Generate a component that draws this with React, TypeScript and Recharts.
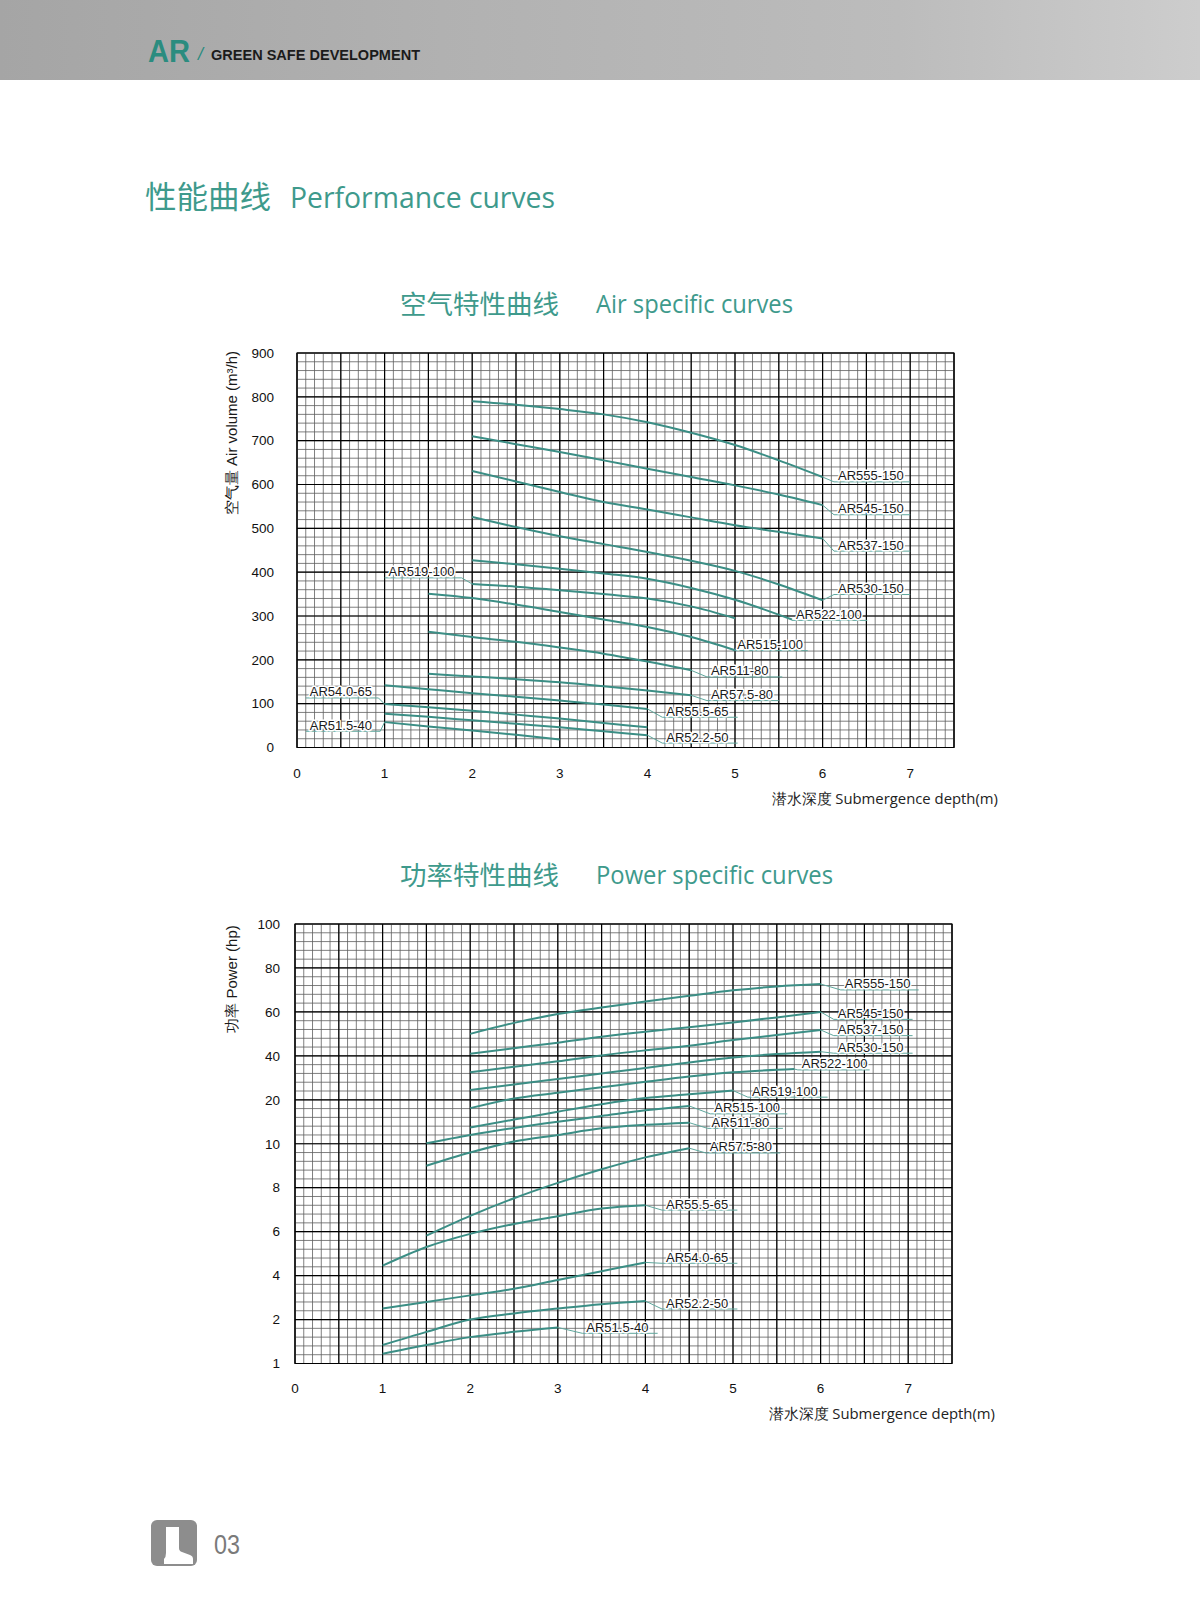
import React from 'react';
import { LineChart, Line, XAxis, YAxis, ReferenceLine, ReferenceArea } from 'recharts';

const FONT = '"Liberation Sans", Arial, Helvetica, sans-serif';
const TEAL = '#3b8e85';
const LEADER = '#5fa79d';
const TITLE = '#3e9a8c';

// ---------- shared ----------
const seriesNames = ['AR555-150', 'AR545-150', 'AR537-150', 'AR530-150', 'AR522-100', 'AR519-100', 'AR515-100', 'AR511-80', 'AR57.5-80', 'AR55.5-65', 'AR54.0-65', 'AR52.2-50', 'AR51.5-40'];
const depthTicks = [0, 1, 2, 3, 4, 5, 6, 7];

const d2to6 = [2, 2.5, 3, 3.5, 4, 4.5, 5, 5.5, 6];
const d2to5 = [2, 2.5, 3, 3.5, 4, 4.5, 5];
const d15to5 = [1.5, 2, 2.5, 3, 3.5, 4, 4.5, 5];
const d15to45 = [1.5, 2, 2.5, 3, 3.5, 4, 4.5];
const d1to4 = [1, 1.5, 2, 2.5, 3, 3.5, 4];
const d1to3 = [1, 1.5, 2, 2.5, 3];
const d2to565 = [2, 2.5, 3, 3.5, 4, 4.5, 5, 5.65];
const d2to57 = [2, 2.5, 3, 3.5, 4, 4.5, 5, 5.7];

// ---------- air specific curves (m3/h) ----------
const airTicks = [0, 100, 200, 300, 400, 500, 600, 700, 800, 900];
const air555 = [790, 782, 772, 760, 742, 718, 690, 655, 617];
const air545 = [710, 692, 674, 655, 636, 617, 598, 577, 553];
const air537 = [631, 607, 583, 560, 543, 525, 507, 492, 477];
const air530 = [526, 503, 482, 464, 446, 426, 403, 372, 336];
const air522 = [427, 418, 408, 397, 385, 364, 337, 292];
const air519 = [373, 367, 359, 350, 340, 322, 295];
const air515 = [351, 341, 326, 309, 292, 275, 252, 222];
const air511 = [264, 252, 241, 228, 214, 196, 176];
const air575 = [168, 162, 156, 149, 140, 130, 119];
const air555s = [142, 133, 124, 116, 107, 98, 88];
const air540 = [99, 92, 84, 75, 66, 56, 46];
const air522s = [77, 70, 62, 54, 46, 37, 28];
const air515s = [58, 48, 39, 29, 18];
const airDepths = [d2to6, d2to6, d2to6, d2to6, d2to565, d2to5, d15to5, d15to45, d15to45, d1to4, d1to4, d1to4, d1to3];
const airValues = [air555, air545, air537, air530, air522, air519, air515, air511, air575, air555s, air540, air522s, air515s];
// label underline: start depth, end depth, level; side = which curve end the leader meets
const airLabelFrom = [6.13, 6.13, 6.13, 6.13, 5.65, 1.0, 4.98, 4.68, 4.68, 4.17, 0.1, 4.17, 0.1];
const airLabelTo = [7.0, 7.0, 7.0, 7.0, 6.51, 1.88, 5.83, 5.54, 5.5, 5.03, 0.93, 5.03, 0.95];
const airLabelLevel = [606, 531, 448, 349, 290, 387, 221, 161, 107, 69, 113, 10, 37];
const airLabelSide = ['end', 'end', 'end', 'end', 'end', 'start', 'end', 'end', 'end', 'end', 'start', 'end', 'start'];

// ---------- power specific curves (hp) ----------
const powerTickValues = [1, 2, 4, 6, 8, 10, 20, 40, 60, 80, 100];
const powerTickLabels = ['1', '2', '4', '6', '8', '10', '20', '40', '60', '80', '100'];
const pow555 = [50, 55, 59, 62, 64.7, 67.3, 69.8, 71.6, 72.7];
const pow545 = [41, 43.5, 46, 48.7, 51, 53, 55.2, 57.5, 60];
const pow537 = [32.5, 35, 37.5, 40.2, 42.5, 44.6, 47.2, 49.5, 51.8];
const pow530 = [24.4, 27, 29.5, 32, 34.5, 37, 39.3, 40.8, 41.9];
const pow522 = [18.1, 20.6, 23.2, 25.7, 28.2, 30.6, 32.5, 34];
const pow519 = [13.7, 15.5, 17.3, 19, 20.8, 22.5, 24.2];
const pow515 = [10.1, 12, 13.6, 15, 16.3, 17.6, 18.6];
const pow511 = [9.0, 9.6, 10.5, 12, 13.5, 14.3, 14.8];
const pow575 = [5.82, 6.72, 7.52, 8.22, 8.84, 9.38, 9.8];
const pow555s = [4.45, 5.3, 5.9, 6.35, 6.7, 7.05, 7.2];
const pow540 = [2.5, 2.8, 3.1, 3.4, 3.8, 4.2, 4.6];
const pow522s = [1.42, 1.72, 2.0, 2.28, 2.5, 2.7, 2.84];
const pow515s = [1.22, 1.42, 1.6, 1.72, 1.82];
const powerDepths = [d2to6, d2to6, d2to6, d2to6, d2to57, d2to5, d15to45, d15to45, d15to45, d1to4, d1to4, d1to4, d1to3];
const powerValues = [pow555, pow545, pow537, pow530, pow522, pow519, pow515, pow511, pow575, pow555s, pow540, pow522s, pow515s];
const powerLabelFrom = [6.23, 6.15, 6.15, 6.15, 5.74, 5.17, 4.74, 4.71, 4.69, 4.19, 4.19, 4.19, 3.28];
const powerLabelTo = [7.12, 7.05, 7.05, 7.05, 6.56, 6.08, 5.62, 5.57, 5.54, 5.05, 5.05, 5.05, 4.14];
const powerLabelLevel = [70.0, 56.6, 49.2, 41.2, 33.6, 21.2, 16.8, 13.5, 9.58, 6.98, 4.56, 2.48, 1.687];
const powerLabelSide = seriesNames.map(() => 'end');

// piecewise-linear power axis: equal spacing between labelled ticks
const toPos = (v: number) => {
  const t = powerTickValues;
  for (let i = 0; i < t.length - 1; i++) {
    if (v <= t[i + 1]) return i + (v - t[i]) / (t[i + 1] - t[i]);
  }
  return t.length - 1;
};

// grid helpers
const xMinor = Array.from({ length: 76 }, (_, i) => i / 10);
const xMajor = Array.from({ length: 16 }, (_, i) => i / 2);
const airYMinor = Array.from({ length: 46 }, (_, i) => i * 20);
const powYMinor = Array.from({ length: 51 }, (_, i) => i / 5);
const powYMajor = Array.from({ length: 11 }, (_, i) => i);

const makeLabel = (text: string) => (props: any) => {
  const vb = props.viewBox || {};
  return (
    <text x={(vb.x || 0) + 4} y={(vb.y || 0) - 1.5} fill="#1a1a1a" fontSize={13} fontFamily={FONT}
      stroke="#fff" strokeWidth={3} strokeLinejoin="round" paintOrder="stroke" style={{ paintOrder: 'stroke' }}>
      {text}
    </text>
  );
};

type ChartProps = {
  left: number; top: number; width: number; height: number;
  margin: any; yWidth: number; yTickMargin: number; xTickMargin: number;
  yDomain: number[]; yTicks: number[]; yFormat: (v: number) => string;
  yMinor: number[]; yMajor: number[];
  depths: number[][]; values: number[][]; map: (v: number) => number;
  labelFrom: number[]; labelTo: number[]; labelLevel: number[]; labelSide: string[];
};

function CurveChart(p: ChartProps) {
  const tickStyle = { fill: '#111', fontSize: 13.5, fontFamily: FONT };
  return (
    <div style={{ position: 'absolute', left: p.left, top: p.top, width: p.width, height: p.height }}>
      <LineChart width={p.width} height={p.height} margin={p.margin}>
        <XAxis type="number" dataKey="x" domain={[0, 7.5]} ticks={depthTicks} interval={0}
          tickSize={0} tickMargin={p.xTickMargin} axisLine={false} tickLine={false} tick={tickStyle} height={40} allowDataOverflow />
        <YAxis type="number" dataKey="y" domain={p.yDomain} ticks={p.yTicks} interval={0}
          tickFormatter={p.yFormat} tickSize={0} tickMargin={p.yTickMargin} axisLine={false} tickLine={false}
          tick={tickStyle} width={p.yWidth} allowDataOverflow />
        {xMinor.map((v) => (
          <ReferenceLine key={'xm' + v} x={v} stroke="#5e5e5e" strokeWidth={0.8} ifOverflow="visible" />
        ))}
        {p.yMinor.map((v) => (
          <ReferenceLine key={'ym' + v} y={v} stroke="#5e5e5e" strokeWidth={0.8} ifOverflow="visible" />
        ))}
        {xMajor.map((v) => (
          <ReferenceLine key={'xM' + v} x={v} stroke="#000" strokeWidth={1.2} ifOverflow="visible" />
        ))}
        {p.yMajor.map((v) => (
          <ReferenceLine key={'yM' + v} y={v} stroke="#000" strokeWidth={1.2} ifOverflow="visible" />
        ))}
        <ReferenceArea x1={0} x2={7.5} y1={p.yDomain[0]} y2={p.yDomain[1]}
          fill="none" stroke="#000" strokeWidth={1.2} fillOpacity={0} ifOverflow="visible" />
        {p.depths.map((ds, si) => {
          const vals = p.values[si];
          const anchorIdx = p.labelSide[si] === 'end' ? ds.length - 1 : 0;
          const ax = ds[anchorIdx];
          const ay = p.map(vals[anchorIdx]);
          const ly = p.map(p.labelLevel[si]);
          const joinX = p.labelSide[si] === 'end' ? p.labelFrom[si] : p.labelTo[si];
          return (
            <React.Fragment key={seriesNames[si]}>
              <ReferenceLine ifOverflow="visible"
                segment={[{ x: ax, y: ay }, { x: joinX, y: ly }]} stroke={LEADER} strokeWidth={1} />
              <ReferenceLine ifOverflow="visible"
                segment={[{ x: p.labelFrom[si], y: ly }, { x: p.labelTo[si], y: ly }]} stroke={LEADER} strokeWidth={1}
                label={makeLabel(seriesNames[si])} />
            </React.Fragment>
          );
        })}
        {p.depths.map((ds, si) => (
          <Line key={'l' + si} type="monotone" dataKey="y"
            data={ds.map((x, i) => ({ x, y: p.map(p.values[si][i]) }))}
            stroke={TEAL} strokeWidth={2} dot={false} activeDot={false} isAnimationActive={false} />
        ))}
      </LineChart>
    </div>
  );
}

export default function App() {
  const ident = (v: number) => v;
  return (
    <div style={{ position: 'absolute', left: 0, top: 0, width: 1200, height: 1600, background: '#fff', overflow: 'hidden' }}>
      <div style={{ position: 'absolute', left: 0, top: 0, width: 1200, height: 80,
        background: 'linear-gradient(90deg, #a5a5a5 0%, #b2b2b2 40%, #bcbcbc 75%, #cdcdcd 100%)' }} />
      <CurveChart left={200} top={330} width={780} height={500}
        margin={{ top: 23, right: 26, left: 0, bottom: 42.5 }} yWidth={97} yTickMargin={23} xTickMargin={21}
        yDomain={[0, 900]} yTicks={airTicks} yFormat={(v) => String(v)} yMinor={airYMinor} yMajor={airTicks}
        depths={airDepths} values={airValues} map={ident}
        labelFrom={airLabelFrom} labelTo={airLabelTo} labelLevel={airLabelLevel} labelSide={airLabelSide} />
      <CurveChart left={200} top={900} width={780} height={520}
        margin={{ top: 24, right: 28, left: 0, bottom: 16.5 }} yWidth={95} yTickMargin={15} xTickMargin={20}
        yDomain={[0, 10]} yTicks={powYMajor} yFormat={(v) => powerTickLabels[Math.round(v)]} yMinor={powYMinor} yMajor={powYMajor}
        depths={powerDepths} values={powerValues} map={toPos}
        labelFrom={powerLabelFrom} labelTo={powerLabelTo} labelLevel={powerLabelLevel} labelSide={powerLabelSide} />
      <svg width={1200} height={1600} style={{ position: 'absolute', left: 0, top: 0, pointerEvents: 'none' }}>
        {/* header */}
        <text x={148} y={62} fill="#2b8c7f" fontSize={31} fontWeight="bold" fontFamily={FONT} textLength={42} lengthAdjust="spacingAndGlyphs">AR</text>
        <text x={198} y={60} fill="#2b8c7f" fontSize={18} fontFamily={FONT} fontStyle="italic">/</text>
        <text x={211} y={60} fill="#1b1b1b" fontSize={15} fontWeight="bold" fontFamily={FONT} textLength={209} lengthAdjust="spacingAndGlyphs">GREEN SAFE DEVELOPMENT</text>
        {/* page title */}
        <text x={145} y={208} fill={TITLE} fontSize={31} fontFamily='"Noto Sans CJK SC", sans-serif' textLength={126} lengthAdjust="spacingAndGlyphs">性能曲线</text>
        <text x={290} y={208} fill={TITLE} fontSize={30} fontFamily='"Open Sans", sans-serif' textLength={265} lengthAdjust="spacingAndGlyphs">Performance curves</text>
        {/* chart titles */}
        <text x={400} y={314} fill={TITLE} fontSize={26} fontFamily='"Noto Sans CJK SC", sans-serif' textLength={159} lengthAdjust="spacingAndGlyphs">空气特性曲线</text>
        <text x={596} y={313} fill={TITLE} fontSize={26} fontFamily='"Open Sans", sans-serif' textLength={197} lengthAdjust="spacingAndGlyphs">Air specific curves</text>
        <text x={400} y={885} fill={TITLE} fontSize={26} fontFamily='"Noto Sans CJK SC", sans-serif' textLength={159} lengthAdjust="spacingAndGlyphs">功率特性曲线</text>
        <text x={596} y={884} fill={TITLE} fontSize={26} fontFamily='"Open Sans", sans-serif' textLength={237} lengthAdjust="spacingAndGlyphs">Power specific curves</text>
        {/* axis titles */}
        <text x={231} y={433} transform="rotate(-90 231 433)" textAnchor="middle" dominantBaseline="central" fill="#1a1a1a" fontSize={15} fontFamily={FONT}>空气量 Air volume (m³/h)</text>
        <text x={231} y={979} transform="rotate(-90 231 979)" textAnchor="middle" dominantBaseline="central" fill="#1a1a1a" fontSize={15} fontFamily={FONT}>功率 Power (hp)</text>
        <text x={772} y={804} fill="#222" fontSize={15} fontFamily='"Open Sans", sans-serif' textLength={226} lengthAdjust="spacingAndGlyphs">潜水深度 Submergence depth(m)</text>
        <text x={769} y={1419} fill="#222" fontSize={15} fontFamily='"Open Sans", sans-serif' textLength={226} lengthAdjust="spacingAndGlyphs">潜水深度 Submergence depth(m)</text>
        {/* footer */}
        <rect x={151} y={1520} width={46} height={46} rx={6} fill="#8d8d8d" />
        <path d="M166,1527 h13 v21 q0,3 3,4 l8,3 q3,1 3,4 v5 h-29 v-5 q2,-2 2,-6 z" fill="#fff" />
        <text x={214} y={1554} fill="#7a7a7a" fontSize={27} fontFamily={FONT} textLength={26} lengthAdjust="spacingAndGlyphs">03</text>
      </svg>
    </div>
  );
}
